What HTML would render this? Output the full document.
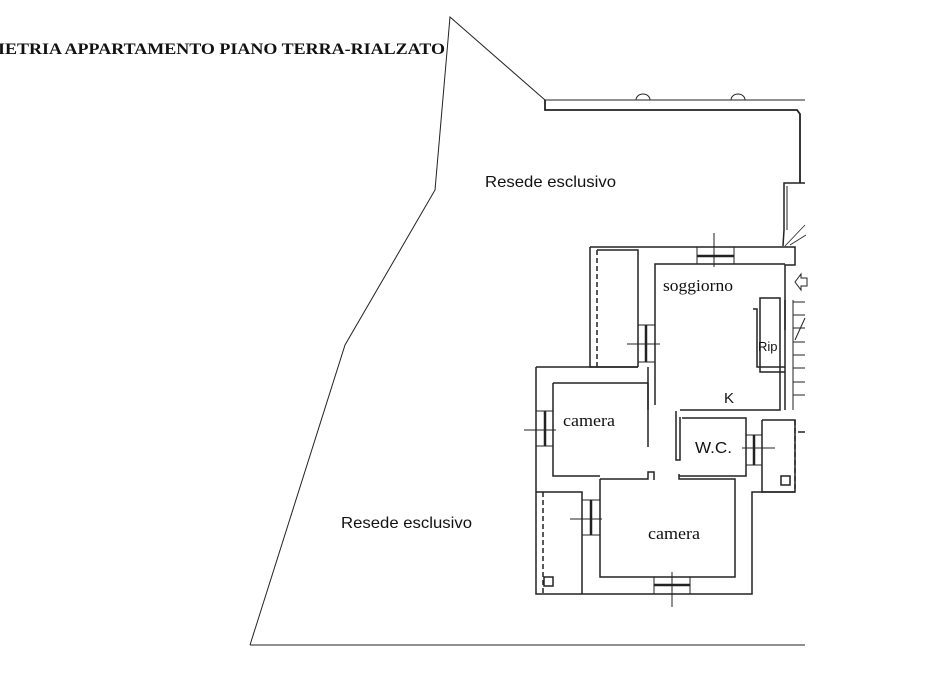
<!DOCTYPE html>
<html><head><meta charset="utf-8"><style>
html,body{margin:0;padding:0;background:#fff;width:930px;height:698px;overflow:hidden}
svg{display:block}
text{font-family:"Liberation Sans",sans-serif;fill:#111}
.s{font-family:"Liberation Serif",serif}
</style></head><body>
<svg width="930" height="698" viewBox="0 0 930 698" fill="none" stroke="#222" stroke-width="1.5">
<text class="s" x="-2" y="54" font-size="16" font-weight="bold" stroke="none" textLength="447" lengthAdjust="spacingAndGlyphs">IETRIA APPARTAMENTO PIANO TERRA-RIALZATO</text>
<!-- site boundary -->
<polyline points="250,645 345,345 435,190 450,17 545,100" stroke-width="1"/>
<line x1="250" y1="645" x2="805" y2="645" stroke-width="1"/>
<!-- top wall -->
<polyline points="545,100 805,100" stroke-width="1"/>
<polyline points="545,100 545,110 797,110 800,114 800,183" stroke-width="1.8"/>
<path d="M636,100 a7,6 0 0 1 14,0 M731,100 a7,6 0 0 1 14,0" stroke-width="1"/>
<polyline points="805,183 784,183 784,230 783,246" stroke-width="1.5"/>
<polyline points="787,186 787,230" stroke-width="1"/>
<path d="M785,246 L805,225 M790,245 L806,235" stroke-width="0.8"/>
<!-- main outer walls -->
<polyline points="590,247 795,247 795,265 785,265 785,330" />
<polyline points="655,283 655,264 785,264" />
<polyline points="590,247 590,367 638,367" />
<polyline points="597,250 597,367" stroke-dasharray="5,3"/>
<polyline points="597,250 638,250 638,367" />
<polyline points="655,283 655,405" />
<polyline points="648,367 648,410" />
<!-- left block -->
<polyline points="536,367 638,367"/>
<polyline points="536,367 536,594 752,594 752,492 795,492"/>
<polyline points="553,383 648,383"/>
<polyline points="553,383 553,476 600,476"/>
<polyline points="648,383 648,447"/>
<polyline points="536,492 582,492 582,594"/>
<polyline points="543,492 543,594" stroke-dasharray="5,3"/>
<polyline points="600,479 648,479 648,472 654,472 654,480"/>
<polyline points="600,479 600,577 735,577 735,479 679,479 679,474"/>
<rect x="544" y="577" width="9" height="9"/>
<!-- kitchen / wc -->
<polyline points="680,410 780,410 780,298 760,298 760,372 785,372"/>
<polyline points="753,309 757,309 757,367 785,367"/>
<polyline points="785,300 785,410"/>
<polyline points="680,417 680,460 676,460 676,411"/>
<polyline points="682,418 746,418 746,476 679,476"/>
<polyline points="762,420 795,420 795,492 762,492 762,420"/>
<polyline points="795,420 795,492" stroke-dasharray="5,3"/>
<rect x="781" y="476" width="9" height="9"/>
<polyline points="798,432 805,432"/>
<!-- stairs -->
<path d="M793,300 v110 M793,302 h12 M793,315 h12 M793,328 h12 M793,342 h12 M793,355 h12 M793,368 h12 M793,382 h12 M793,395 h12 M795,340 L805,318" stroke-width="1"/>
<path d="M795,282 l6,-8 v4 h6 v8 h-6 v4 z" stroke-width="1"/>
<!-- windows -->
<g stroke-width="1">
<rect x="697" y="247" width="37" height="17"/><line x1="697" y1="256" x2="734" y2="256" stroke-width="2.5"/><line x1="714" y1="233" x2="714" y2="267"/>
<rect x="638" y="325" width="17" height="37"/><line x1="646" y1="325" x2="646" y2="362" stroke-width="2.5"/><line x1="627" y1="344" x2="660" y2="344"/>
<rect x="536" y="411" width="17" height="35"/><line x1="545" y1="411" x2="545" y2="446" stroke-width="2.5"/><line x1="524" y1="430" x2="556" y2="430"/>
<rect x="582" y="500" width="18" height="35"/><line x1="591" y1="500" x2="591" y2="535" stroke-width="2.5"/><line x1="570" y1="519" x2="602" y2="519"/>
<rect x="654" y="577" width="36" height="17"/><line x1="654" y1="585" x2="690" y2="585" stroke-width="2.5"/><line x1="672" y1="572" x2="672" y2="607"/>
<rect x="746" y="435" width="16" height="30"/><line x1="754" y1="435" x2="754" y2="465" stroke-width="2.5"/><line x1="742" y1="448" x2="775" y2="448"/>
</g>
<g stroke="none">
<text x="485" y="187" font-size="16" textLength="131" lengthAdjust="spacingAndGlyphs">Resede esclusivo</text>
<text x="341" y="528" font-size="16" textLength="131" lengthAdjust="spacingAndGlyphs">Resede esclusivo</text>
<text class="s" x="663" y="291" font-size="17" textLength="70" lengthAdjust="spacingAndGlyphs">soggiorno</text>
<text class="s" x="563" y="426" font-size="17" textLength="52" lengthAdjust="spacingAndGlyphs">camera</text>
<text class="s" x="648" y="539" font-size="17" textLength="52" lengthAdjust="spacingAndGlyphs">camera</text>
<text x="695" y="453" font-size="16" textLength="37" lengthAdjust="spacingAndGlyphs">W.C.</text>
<text x="724" y="403" font-size="15">K</text>
<text x="758" y="351" font-size="13">Rip</text>
</g>
</svg>
</body></html>
